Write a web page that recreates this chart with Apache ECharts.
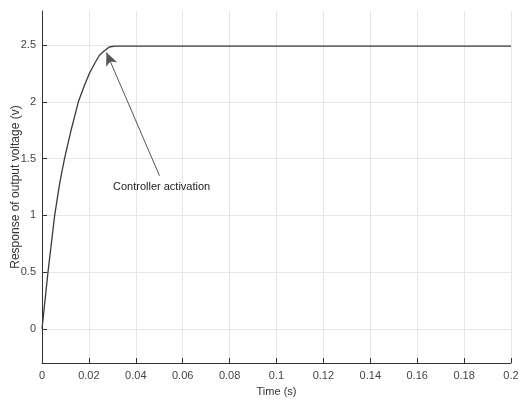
<!DOCTYPE html>
<html>
<head>
<meta charset="utf-8">
<script src="https://cdn.jsdelivr.net/npm/echarts@6/dist/echarts.min.js"></script>
<style>html,body{margin:0;padding:0;background:#fff;}#c{width:521px;height:400px;}</style>
</head>
<body>
<div id="c"></div>
<script>
// Data
var timeS = [0, 0.00255, 0.0054, 0.0076, 0.0096, 0.0124, 0.0155, 0.018, 0.0202, 0.0225, 0.0245, 0.0266, 0.0287, 0.031, 0.05, 0.1, 0.15, 0.2];
var voltage = [0, 0.5, 1.0, 1.29, 1.5, 1.75, 2.0, 2.14, 2.25, 2.34, 2.41, 2.45, 2.483, 2.49, 2.49, 2.49, 2.49, 2.49];
var xTicks = [0, 0.02, 0.04, 0.06, 0.08, 0.1, 0.12, 0.14, 0.16, 0.18, 0.2];
var yTicks = [0, 0.5, 1, 1.5, 2, 2.5];
var annotationText = 'Controller activation';
var arrowTail = [0.0501, 1.349];
var arrowTip = [0.0275, 2.434];
var textAt = [0.051, 1.25];

var pts = timeS.map(function (t, i) { return [t, voltage[i]]; });
var font = "'Liberation Sans', Arial, sans-serif";
var chart = echarts.init(document.getElementById('c'), null, {renderer: 'canvas'});
chart.setOption({
  animation: false,
  backgroundColor: '#ffffff',
  grid: {left: 42, right: 10, top: 11, bottom: 37, containLabel: false, outerBoundsMode: 'none'},
  xAxis: {
    type: 'value', min: 0, max: 0.2, interval: 0.02,
    name: 'Time (s)', nameLocation: 'middle', nameGap: 23, nameMoveOverlap: false,
    nameTextStyle: {fontFamily: font, fontSize: 11, color: '#333'},
    axisLine: {show: true, onZero: false, lineStyle: {color: '#333', width: 1}},
    axisTick: {show: true, inside: true, length: 5, customValues: xTicks, lineStyle: {color: '#333'}},
    axisLabel: {margin: 7, fontFamily: font, fontSize: 11, color: '#444', customValues: xTicks,
      formatter: function (v) { return String(Math.round(v * 100) / 100); }},
    splitLine: {show: true, lineStyle: {color: '#e6e6e6', width: 1}}
  },
  yAxis: {
    type: 'value', min: -0.3, max: 2.8,
    name: 'Response of output voltage (v)', nameLocation: 'middle', nameGap: 20, nameMoveOverlap: false,
    nameTextStyle: {fontFamily: font, fontSize: 12, color: '#333'},
    axisLine: {show: true, lineStyle: {color: '#333', width: 1}},
    axisTick: {show: true, inside: true, length: 5, customValues: yTicks, lineStyle: {color: '#333'}},
    axisLabel: {margin: 6, fontFamily: font, fontSize: 11, color: '#444', customValues: yTicks,
      formatter: function (v) { return String(Math.round(v * 10) / 10); }},
    splitLine: {show: true, lineStyle: {color: '#e6e6e6', width: 1}}
  },
  series: [{
    type: 'line', data: pts, showSymbol: false, symbol: 'none', smooth: false,
    lineStyle: {color: '#3a3a3a', width: 1.3},
    markLine: {
      silent: true, symbol: ['none', 'arrow'], symbolSize: [9, 13],
      label: {show: false},
      lineStyle: {color: '#555', width: 1, type: 'solid'},
      data: [[{coord: arrowTail, symbol: 'none'}, {coord: arrowTip, symbol: 'arrow'}]]
    },
    markPoint: {
      silent: true, symbol: 'circle', symbolSize: 0,
      data: [{coord: textAt, label: {show: true, position: 'inside', formatter: annotationText,
        fontFamily: font, fontSize: 11, color: '#222'}}]
    }
  }]
});
</script>
</body>
</html>
